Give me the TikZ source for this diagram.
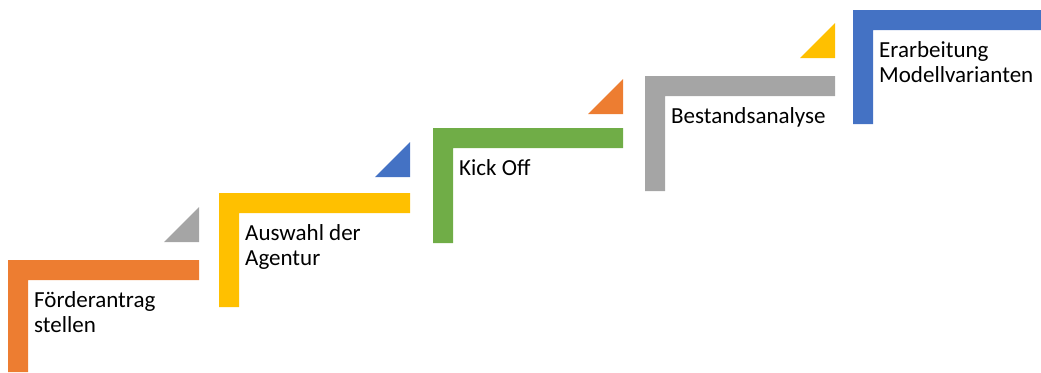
\documentclass[tikz,border=0pt]{standalone}
\usepackage{fontspec}
\setmainfont{Carlito}
\usepackage{xcolor}
\definecolor{steporange}{HTML}{ED7D31}
\definecolor{stepyellow}{HTML}{FFC000}
\definecolor{stepgreen}{HTML}{70AD47}
\definecolor{stepgray}{HTML}{A5A5A5}
\definecolor{stepblue}{HTML}{4472C4}

\begin{document}
\begin{tikzpicture}[
  x=1pt, y=-1pt,
  font=\fontsize{23}{25}\selectfont,
  bar/.style={draw=none},
  marker/.style={draw=none},
  steplabel/.style={anchor=north west, inner sep=0pt, align=left},
]
\useasboundingbox (0,0) rectangle (1041,372);

% Steps left-to-right: x / top / right end / bottom / colour / label
\foreach \x/\t/\r/\b/\col/\name/\txt in {
  8/260/199/372/steporange/antrag/{Förderantrag\\stellen},
  219/193/410/307/stepyellow/agentur/{Auswahl der\\Agentur},
  433/128/623/243/stepgreen/kickoff/{Kick Off},
  645/76/835/191/stepgray/bestand/{Bestandsanalyse},
  853/10/1041/124/stepblue/varianten/{Erarbeitung\\Modellvarianten}}
{
  \fill[bar, \col] (\x,\t) -| (\r,\t+20) -| (\x+20,\b) -| cycle;
  \node[steplabel] (\name) at (\x+26,\t+31) {\txt};
}

% Triangles above each bar
\foreach \r/\t/\col in {199/207/stepgray, 410/142/stepblue, 623/79/steporange, 835/23/stepyellow}
  \fill[marker, \col] (\r-35,\t+35) -- (\r,\t+35) -- (\r,\t) -- cycle;

\end{tikzpicture}
\end{document}
